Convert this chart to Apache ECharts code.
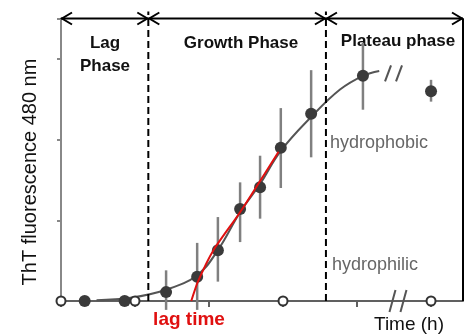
<!DOCTYPE html>
<html><head><meta charset="utf-8">
<script src="https://cdn.jsdelivr.net/npm/echarts@6/dist/echarts.min.js"></script>
<style>html,body{margin:0;padding:0;background:#fff}#c{width:472px;height:336px}</style>
</head><body><div id="c"></div>
<script>
// ---- data ----
const pointX = [1.6, 4.3, 7.1, 9.2, 10.6, 12.1, 13.45, 14.85, 16.9, 20.4, 25.0];
const pointY = [0, 0, 0.11, 0.30, 0.63, 1.14, 1.41, 1.90, 2.32, 2.79, 2.60];
const errLow = [null, null, -0.11, -0.11, 0.24, 0.73, 1.02, 1.40, 1.78, 2.37, 2.47];
const errHigh = [null, null, 0.38, 0.72, 1.04, 1.47, 1.80, 2.39, 2.86, 3.20, 2.74];
const openX = [0, 5, 15, 25];
const curveX = [2.4, 4.7, 7.1, 9.2, 10.6, 12.1, 13.45, 14.85, 16.9, 18.85, 20.4, 21.5];
const curveY = [0.01, 0.04, 0.14, 0.32, 0.63, 1.10, 1.45, 1.86, 2.28, 2.62, 2.79, 2.85];
const lagX = [8.8, 9.25, 10.3, 12.1, 14.7];
const lagY = [0, 0.24, 0.63, 1.10, 1.85];
const phaseBounds = [0, 5.9, 17.9, 27.16];
const curveBreak = [22.5, 2.82];
const axisBreak = [22.8, 0];
const xTicks = [0, 5, 10, 15, 20, 25];

const chart = echarts.init(document.getElementById('c'));
const arrowSegs = [];
for (let i = 0; i < phaseBounds.length - 1; i++) arrowSegs.push([phaseBounds[i], phaseBounds[i+1]]);

chart.setOption({
  animation: false,
  grid: {left: 61, right: 9, top: 18.5, bottom: 35, containLabel: false},
  xAxis: {type: 'value', min: 0, max: 27.16, interval: 5,
    axisLine: {show: true, lineStyle: {color: '#606060', width: 2}},
    axisTick: {show: true, length: 6, lineStyle: {color: '#606060', width: 2},
      customValues: xTicks},
    axisLabel: {show: false}, splitLine: {show: false}},
  yAxis: {type: 'value', min: 0, max: 3.5, interval: 1,
    axisLine: {show: true, lineStyle: {color: '#888', width: 2}},
    axisTick: {show: true, length: 4, lineStyle: {color: '#888', width: 2}},
    axisLabel: {show: false}, splitLine: {show: false}},
  series: [
    {type: 'custom', clip: false, z: 1,
      data: pointX.map((x, i) => [x, errLow[i], errHigh[i]]).filter(d => d[1] !== null),
      renderItem: (p, api) => {
        const a = api.coord([api.value(0), api.value(1)]);
        const b = api.coord([api.value(0), api.value(2)]);
        return {type: 'line', shape: {x1: a[0], y1: a[1], x2: b[0], y2: b[1]},
          style: {stroke: '#808080', lineWidth: 2.5}};
      }},
    {type: 'line', smooth: 0.4, symbol: 'none', z: 2,
      data: curveX.map((x, i) => [x, curveY[i]]),
      lineStyle: {color: '#555', width: 2}},
    {type: 'scatter', symbol: 'circle', symbolSize: 12, z: 3,
      data: pointX.map((x, i) => [x, pointY[i]]),
      itemStyle: {color: '#3a3a3a', opacity: 1}},
    {type: 'line', smooth: 0.2, symbol: 'none', z: 4, clip: false,
      data: lagX.map((x, i) => [x, lagY[i]]),
      lineStyle: {color: '#e01010', width: 2}},
    {type: 'scatter', symbol: 'circle', symbolSize: 9, z: 5, clip: false,
      data: openX.map(x => [x, 0]),
      itemStyle: {color: '#fff', borderColor: '#333', borderWidth: 2, opacity: 1}},
    {type: 'custom', clip: false, z: 6,
      data: phaseBounds.slice(1, 3).map(x => [x]),
      renderItem: (p, api) => {
        const a = api.coord([api.value(0), 0]);
        const b = api.coord([api.value(0), 3.5]);
        return {type: 'line', shape: {x1: a[0], y1: a[1], x2: b[0], y2: b[1] - 7},
          style: {stroke: '#000', lineWidth: 2, lineDash: [7, 4]}};
      }},
    {type: 'custom', clip: false, z: 7,
      data: arrowSegs,
      renderItem: (p, api) => {
        const a = api.coord([api.value(0), 3.5]);
        const b = api.coord([api.value(1), 3.5]);
        const st = {stroke: '#000', lineWidth: 2, fill: null};
        return {type: 'group', children: [
          {type: 'line', shape: {x1: a[0], y1: a[1], x2: b[0], y2: b[1]}, style: st},
          {type: 'polyline', shape: {points: [[a[0]+11, a[1]-6], [a[0]+1, a[1]], [a[0]+11, a[1]+6]]}, style: st},
          {type: 'polyline', shape: {points: [[b[0]-11, b[1]-6], [b[0]-1, b[1]], [b[0]-11, b[1]+6]]}, style: st}
        ]};
      }},
    {type: 'custom', clip: false, z: 7,
      data: [[phaseBounds[3]]],
      renderItem: (p, api) => {
        const a = api.coord([api.value(0), 0]);
        const b = api.coord([api.value(0), 3.5]);
        return {type: 'line', shape: {x1: a[0], y1: a[1], x2: b[0], y2: b[1]},
          style: {stroke: '#000', lineWidth: 2}};
      }},
    {type: 'custom', clip: false, z: 8,
      data: [curveBreak, axisBreak],
      renderItem: (p, api) => {
        const c = api.coord([api.value(0), api.value(1)]);
        const st = {stroke: '#555', lineWidth: 2};
        const h = p.dataIndex === 0 ? 8 : 11;
        return {type: 'group', children: [
          {type: 'line', shape: {x1: c[0]-9, y1: c[1]+h, x2: c[0]-3, y2: c[1]-h}, style: st},
          {type: 'line', shape: {x1: c[0]+2, y1: c[1]+h, x2: c[0]+8, y2: c[1]-h}, style: st}
        ]};
      }}
  ],
  graphic: [
    {type: 'text', x: 105, y: 43, style: {text: 'Lag', font: 'bold 17px "Liberation Sans"', fill: '#111', textAlign: 'center', textVerticalAlign: 'middle'}},
    {type: 'text', x: 105, y: 66, style: {text: 'Phase', font: 'bold 17px "Liberation Sans"', fill: '#111', textAlign: 'center', textVerticalAlign: 'middle'}},
    {type: 'text', x: 241, y: 43, style: {text: 'Growth Phase', font: 'bold 17px "Liberation Sans"', fill: '#111', textAlign: 'center', textVerticalAlign: 'middle'}},
    {type: 'text', x: 398, y: 41, style: {text: 'Plateau phase', font: 'bold 17px "Liberation Sans"', fill: '#111', textAlign: 'center', textVerticalAlign: 'middle'}},
    {type: 'text', x: 330, y: 143, style: {text: 'hydrophobic', font: '18px "Liberation Sans"', fill: '#666', textAlign: 'left', textVerticalAlign: 'middle'}},
    {type: 'text', x: 332, y: 265, style: {text: 'hydrophilic', font: '18px "Liberation Sans"', fill: '#666', textAlign: 'left', textVerticalAlign: 'middle'}},
    {type: 'text', x: 189, y: 320, style: {text: 'lag time', font: 'bold 19px "Liberation Sans"', fill: '#e01010', textAlign: 'center', textVerticalAlign: 'middle'}},
    {type: 'text', x: 409, y: 325, style: {text: 'Time (h)', font: '19px "Liberation Sans"', fill: '#111', textAlign: 'center', textVerticalAlign: 'middle'}},
    {type: 'text', x: 30, y: 172, rotation: Math.PI / 2, style: {text: 'ThT fluorescence 480 nm', font: '20px "Liberation Sans"', fill: '#111', textAlign: 'center', textVerticalAlign: 'middle'}}
  ]
});
</script></body></html>
